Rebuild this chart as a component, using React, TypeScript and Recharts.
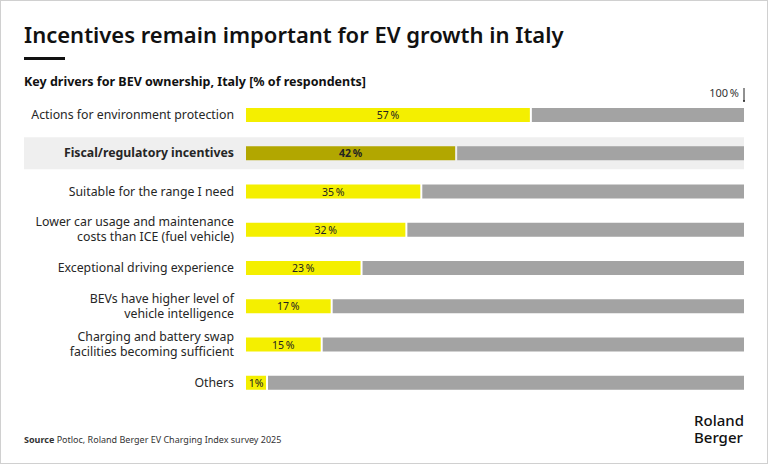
import React from 'react';
import { BarChart, Bar, XAxis, YAxis, LabelList } from 'recharts';

const categories = [
  'Actions for environment protection',
  'Fiscal/regulatory incentives',
  'Suitable for the range I need',
  'Lower car usage and maintenance\ncosts than ICE (fuel vehicle)',
  'Exceptional driving experience',
  'BEVs have higher level of\nvehicle intelligence',
  'Charging and battery swap\nfacilities becoming sufficient',
  'Others',
];
const shares = [57, 42, 35, 32, 23, 17, 15, 1];
const highlighted = 'Fiscal/regulatory incentives';
const total = 100;

const data = categories.map((name, i) => ({
  name,
  value: shares[i],
  rest: total - shares[i],
}));

const FONT = "'Noto Sans', sans-serif";
const YELLOW = '#f4ef00';
const OLIVE = '#b2a700';
const GREY = '#a3a3a3';
const MIN_W = 20; // small values still get room for their label

// yellow bar, also paints the light band behind the highlighted row
const ValueShape = (props: any) => {
  const { x, y, width, height, payload } = props;
  const isHl = payload.name === highlighted;
  const fullW = (width * total) / payload.value;
  return (
    <g>
      {isHl && (
        <rect x={24} y={y - 9} width={x + fullW - 24} height={height + 18} fill="#efefef" />
      )}
      <rect x={x} y={y} width={Math.max(width, MIN_W)} height={height} fill={isHl ? OLIVE : YELLOW} />
    </g>
  );
};

const RestShape = (props: any) => {
  const { x, y, width, height, index, payload } = props;
  const valueW = (width / payload.rest) * payload.value;
  const start = x - valueW + Math.max(valueW, MIN_W);
  const end = x + width;
  return (
    <g>
      <rect x={start + 2} y={y} width={Math.max(end - start - 2, 0)} height={height} fill={GREY} />
      {index === 0 && (
        <g>
          <line x1={end} x2={end} y1={y - 20} y2={y - 7} stroke="#222" strokeWidth={1} />
          <circle cx={end} cy={y - 7} r={1} fill="#222" />
          <text x={end - 5} y={y - 11} textAnchor="end" fontSize={11} fill="#333" fontFamily={FONT}>
            100{'\u2009'}%
          </text>
        </g>
      )}
    </g>
  );
};

const ValueLabel = (props: any) => {
  const { x, y, width, height, value, index } = props;
  const isHl = data[index].name === highlighted;
  const w = Math.max(width, MIN_W);
  return (
    <text
      x={x + w / 2}
      y={y + height / 2 + 4}
      textAnchor="middle"
      fontSize={10.5}
      fontWeight={isHl ? 700 : 400}
      fill="#222"
      fontFamily={FONT}
    >
      {value < 5 ? `${value}%` : `${value}\u2009%`}
    </text>
  );
};

const CategoryTick = (props: any) => {
  const { x, y, payload } = props;
  const lines = String(payload.value).split('\n');
  const isHl = payload.value === highlighted;
  const start = y - ((lines.length - 1) * 15) / 2 + 4;
  return (
    <g>
      {lines.map((l, i) => (
        <text
          key={i}
          x={x}
          y={start + i * 15}
          textAnchor="end"
          fontSize={12.3}
          fontWeight={isHl ? 700 : 400}
          fill="#262626"
          fontFamily={FONT}
        >
          {l}
        </text>
      ))}
    </g>
  );
};

export default function App() {
  return (
    <div
      style={{
        position: 'absolute',
        left: 0,
        top: 0,
        width: 768,
        height: 464,
        background: '#fff',
        boxSizing: 'border-box',
        border: '1px solid #d0d0d0',
        fontFamily: FONT,
        color: '#111',
        overflow: 'hidden',
      }}
    >
      <div style={{ position: 'absolute', left: 23, top: 18, fontSize: 22, fontWeight: 600 }}>
        Incentives remain important for EV growth in Italy
      </div>
      <div style={{ position: 'absolute', left: 23, top: 56, width: 41, height: 3, background: '#111' }} />
      <div style={{ position: 'absolute', left: 23, top: 72, fontSize: 12.5, fontWeight: 700 }}>
        Key drivers for BEV ownership, Italy [% of respondents]
      </div>
      <div style={{ position: 'absolute', left: -1, top: -1 }}>
        <BarChart
          width={768}
          height={464}
          data={data}
          layout="vertical"
          margin={{ top: 96, right: 24, bottom: 62, left: 0 }}
          barSize={14}
        >
          <XAxis type="number" domain={[0, total]} hide />
          <YAxis
            type="category"
            dataKey="name"
            width={246}
            axisLine={false}
            tickLine={false}
            tickSize={0}
            tickMargin={12}
            interval={0}
            tick={<CategoryTick />}
          />
          <Bar dataKey="value" stackId="a" shape={<ValueShape />} isAnimationActive={false}>
            <LabelList dataKey="value" content={<ValueLabel />} />
          </Bar>
          <Bar dataKey="rest" stackId="a" shape={<RestShape />} isAnimationActive={false} />
        </BarChart>
      </div>
      <div style={{ position: 'absolute', left: 23, top: 432, fontSize: 9, color: '#333' }}>
        <b>Source</b> Potloc, Roland Berger EV Charging Index survey 2025
      </div>
      <div
        style={{
          position: 'absolute',
          left: 693,
          top: 411,
          fontSize: 15,
          lineHeight: '17px',
          fontWeight: 500,
          color: '#111',
        }}
      >
        Roland
        <br />
        Berger
      </div>
    </div>
  );
}
